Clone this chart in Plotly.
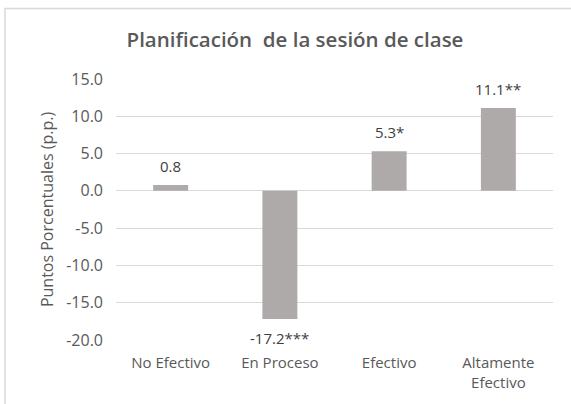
import plotly.graph_objects as go

categories = ["No Efectivo", "En Proceso", "Efectivo", "Altamente<br>Efectivo"]
values = [0.8, -17.2, 5.3, 11.1]
labels = ["0.8", "-17.2***", "5.3*", "11.1**"]
tick_vals = [-20, -15, -10, -5, 0, 5, 10, 15]
tick_text = ["-20.0", "-15.0", "-10.0", "-5.0", "0.0", "5.0", "10.0", "15.0"]

FONT = "Open Sans"
W, H = 571, 404
L, R, T, B = 116, 18, 79, 64

fig = go.Figure(go.Bar(
    x=categories, y=values,
    marker=dict(color="#AEAAAA", line=dict(width=0)),
    width=0.32, hoverinfo="skip",
))

for c, v, t in zip(categories, values, labels):
    fig.add_annotation(x=c, y=v, text=t, showarrow=False,
                       yanchor="bottom" if v >= 0 else "top",
                       yshift=8 if v >= 0 else -8, borderpad=0,
                       font=dict(family=FONT, size=15, color="#404040"))

pw, ph = W - L - R, H - T - B
fig.add_shape(type="rect", xref="paper", yref="paper",
              x0=(5 - L) / pw, x1=(W + 5 - L) / pw,
              y0=(H - B - (H + 5)) / ph, y1=(H - B - 8.5) / ph,
              line=dict(color="#D9D9D9", width=1.5), fillcolor="rgba(0,0,0,0)", layer="below")

fig.update_layout(
    width=W, height=H,
    margin=dict(l=L, r=R, t=T, b=B, autoexpand=False),
    paper_bgcolor="white", plot_bgcolor="white",
    title=dict(text="Planificación  de la sesión de clase", x=295 / W, xanchor="center",
               y=1 - 40 / H, yanchor="middle", yref="container",
               font=dict(family=FONT, size=20.5, color="#595959", weight=600)),
    font=dict(family=FONT, size=15, color="#595959"),
    showlegend=False,
    xaxis=dict(showgrid=False, showline=False, ticks="", automargin=False,
               ticklabelstandoff=12,
               tickfont=dict(size=15, color="#595959")),
    yaxis=dict(range=[-20, 15], tickvals=tick_vals, ticktext=tick_text, automargin=False,
               showgrid=True, gridcolor="#D9D9D9", gridwidth=1, zeroline=False,
               showline=False, ticks="", ticklabelstandoff=12,
               tickfont=dict(size=16, color="#595959"),
               title=dict(text="Puntos Porcentuales (p.p.)", standoff=8,
                          font=dict(size=16, color="#595959"))),
)

fig.write_html("out.html", config={"displayModeBar": False},
               post_script="document.body.style.margin='0';")
